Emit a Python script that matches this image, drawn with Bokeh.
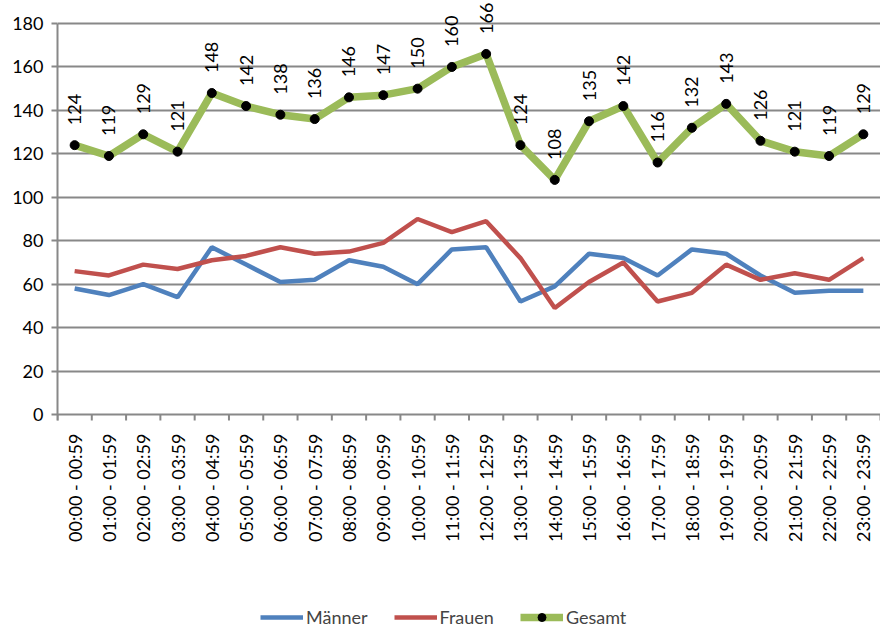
import math
from bokeh.plotting import figure
from bokeh.models import Range1d, FixedTicker, Legend, LegendItem, ColumnDataSource
from bokeh.core.properties import value
from bokeh.embed import file_html
from bokeh.resources import INLINE

categories = ["00:00 - 00:59", "01:00 - 01:59", "02:00 - 02:59", "03:00 - 03:59",
              "04:00 - 04:59", "05:00 - 05:59", "06:00 - 06:59", "07:00 - 07:59",
              "08:00 - 08:59", "09:00 - 09:59", "10:00 - 10:59", "11:00 - 11:59",
              "12:00 - 12:59", "13:00 - 13:59", "14:00 - 14:59", "15:00 - 15:59",
              "16:00 - 16:59", "17:00 - 17:59", "18:00 - 18:59", "19:00 - 19:59",
              "20:00 - 20:59", "21:00 - 21:59", "22:00 - 22:59", "23:00 - 23:59"]
maenner = [58, 55, 60, 54, 77, 69, 61, 62, 71, 68, 60, 76, 77, 52, 59, 74, 72, 64, 76, 74, 64, 56, 57, 57]
frauen = [66, 64, 69, 67, 71, 73, 77, 74, 75, 79, 90, 84, 89, 72, 49, 61, 70, 52, 56, 69, 62, 65, 62, 72]
gesamt = [124, 119, 129, 121, 148, 142, 138, 136, 146, 147, 150, 160, 166, 124, 108, 135, 142, 116, 132, 143, 126, 121, 119, 129]
y_ticks = [0, 20, 40, 60, 80, 100, 120, 140, 160, 180]

FONT = "Lato"
GRID = "#888888"
W, H = 880, 628
LEFT = 57
ZERO_PX = 414            # screen row of value 0
PX_PER_UNIT = 391 / 180.0
TICK = 6

y_top = 180 + 23 / PX_PER_UNIT
y_bottom = -(H - ZERO_PX) / PX_PER_UNIT
tick_y = -TICK / 2 / PX_PER_UNIT

n = len(categories)
xs = list(range(n))
src = ColumnDataSource(dict(x=xs, m=maenner, f=frauen, g=gesamt,
                            lab=[str(v) for v in gesamt], cat=categories, zero=[0] * n))
bsrc = ColumnDataSource(dict(x=[i - 0.5 for i in range(n + 1)], y=[tick_y] * (n + 1)))

p = figure(width=W, height=H, output_backend="svg", toolbar_location=None,
           x_range=Range1d(-0.5, n - 0.5), y_range=Range1d(y_bottom, y_top),
           min_border_left=LEFT, min_border_right=0, min_border_top=0, min_border_bottom=0)
p.outline_line_color = None
p.xaxis.visible = False
p.xgrid.grid_line_color = None

p.yaxis.ticker = FixedTicker(ticks=y_ticks)
p.yaxis.bounds = (-TICK / PX_PER_UNIT, 180)
p.yaxis.minor_tick_line_color = None
p.yaxis.major_tick_in = 0
p.yaxis.major_tick_out = TICK
p.yaxis.major_tick_line_color = GRID
p.yaxis.major_tick_line_width = 2
p.yaxis.axis_line_color = GRID
p.yaxis.axis_line_width = 2
p.yaxis.major_label_standoff = 8
p.yaxis.major_label_text_font = FONT
p.yaxis.major_label_text_font_size = "18px"
p.yaxis.major_label_text_color = "black"

p.ygrid.ticker = FixedTicker(ticks=y_ticks)
p.ygrid.grid_line_color = GRID
p.ygrid.grid_line_width = 2

# category boundary ticks below the zero line
p.scatter("x", "y", source=bsrc, marker="dash", angle=math.pi / 2, size=TICK,
          line_color=GRID, line_width=2)

# category labels (rotated, reading bottom to top)
p.text("x", "zero", text="cat", source=src, angle=math.pi / 2, text_align="right",
       text_baseline="middle", y_offset=19, text_font=value(FONT),
       text_font_size="18px", text_color="black")

r_m = p.line("x", "m", source=src, line_color="#4F81BD", line_width=4.5)
r_f = p.line("x", "f", source=src, line_color="#C0504D", line_width=4.5)
r_g = p.line("x", "g", source=src, line_color="#9BBB59", line_width=7.5)
r_gm = p.scatter("x", "g", source=src, size=9, fill_color="black", line_color="black")

p.text("x", "g", text="lab", source=src, angle=math.pi / 2, text_align="left",
       text_baseline="middle", y_offset=-20, text_font=value(FONT),
       text_font_size="18px", text_color="black")

legend = Legend(items=[LegendItem(label="Männer", renderers=[r_m]),
                       LegendItem(label="Frauen", renderers=[r_f]),
                       LegendItem(label="Gesamt", renderers=[r_g, r_gm])],
                orientation="horizontal", location=(203, 0),
                label_text_font=FONT, label_text_font_size="18px",
                glyph_width=43, spacing=26, label_standoff=3,
                border_line_color=None, background_fill_alpha=0, margin=0, padding=1)
p.add_layout(legend, "center")

open("out.html", "w").write(file_html(p, INLINE))
